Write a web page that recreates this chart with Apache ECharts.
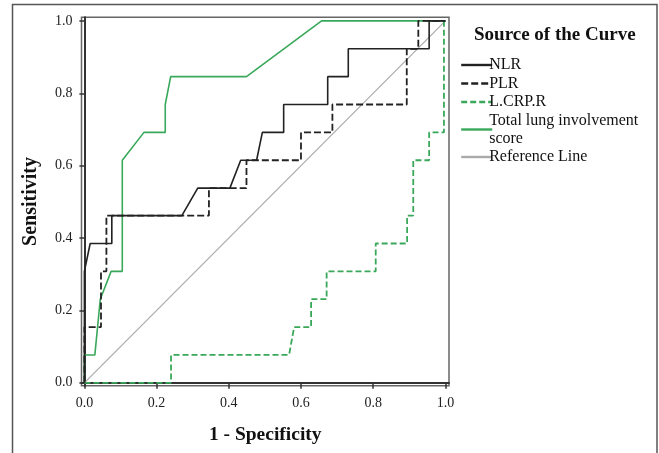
<!DOCTYPE html>
<html><head><meta charset="utf-8">
<script src="https://cdn.jsdelivr.net/npm/echarts@6/dist/echarts.min.js"></script>
<style>html,body{margin:0;padding:0;background:#fff}#c{width:659px;height:453px}</style>
</head><body><div id="c"></div>
<script>
const tickValues = [0, 0.2, 0.4, 0.6, 0.8, 1.0];
const seriesNames = ['NLR', 'PLR', 'L.CRP.R', 'Total lung involvement score', 'Reference Line'];
const nlr = [[0,0],[0,0.308],[0.016,0.385],[0.076,0.385],[0.076,0.462],[0.27,0.462],[0.314,0.538],[0.403,0.538],[0.433,0.615],[0.477,0.615],[0.493,0.692],[0.552,0.692],[0.552,0.769],[0.674,0.769],[0.674,0.846],[0.731,0.846],[0.731,0.923],[0.955,0.923],[0.955,1],[1,1]];
const plr = [[0,0],[0,0.154],[0.046,0.154],[0.046,0.308],[0.061,0.308],[0.061,0.462],[0.345,0.462],[0.345,0.538],[0.449,0.538],[0.449,0.615],[0.6,0.615],[0.6,0.692],[0.687,0.692],[0.687,0.769],[0.893,0.769],[0.893,0.923],[0.925,0.923],[0.925,1],[1,1]];
const lcrpr = [[0,0],[0.24,0],[0.24,0.077],[0.567,0.077],[0.581,0.154],[0.628,0.154],[0.628,0.231],[0.671,0.231],[0.671,0.308],[0.807,0.308],[0.807,0.385],[0.894,0.385],[0.894,0.462],[0.911,0.462],[0.911,0.615],[0.955,0.615],[0.955,0.692],[0.996,0.692],[0.996,1],[1,1]];
const lung = [[0,0],[0,0.077],[0.029,0.077],[0.044,0.231],[0.074,0.308],[0.105,0.308],[0.105,0.615],[0.165,0.692],[0.224,0.692],[0.224,0.769],[0.239,0.846],[0.449,0.846],[0.657,1],[1,1]];
const refLine = [[0,0],[1,1]];

const serif = '"Liberation Serif","Times New Roman",serif';
const chart = echarts.init(document.getElementById('c'));
const green = '#3aa85a';
chart.setOption({
  animation: false,
  backgroundColor: '#fff',
  title: {
    text: 'Source of the Curve', left: 469, top: 21,
    textStyle: {fontFamily: serif, fontWeight: 'bold', fontSize: 19, color: '#111'}
  },
  legend: {
    orient: 'vertical', left: 455, top: 51, itemGap: 0.5,
    itemWidth: 31, itemHeight: 14,
    data: seriesNames,
    formatter: n => n.replace(' score', '\nscore'),
    itemStyle: {opacity: 0, borderWidth: 0},
    lineStyle: {width: 2.4},
    textStyle: {fontFamily: serif, fontSize: 16, color: '#111', lineHeight: 18, padding: [0,0,0,-8]}
  },
  graphic: [{
    type: 'rect', shape: {x: 12.5, y: 4.5, width: 644.5, height: 470},
    style: {fill: 'none', stroke: '#555', lineWidth: 1.5}, silent: true
  }],
  grid: {left: 81.5, top: 17.3, width: 367.5, height: 368.4, show: true, borderColor: '#666', borderWidth: 1.5},
  xAxis: {
    type: 'value', min: -0.008, max: 1.01,
    name: '1 - Specificity', nameLocation: 'middle', nameGap: 39,
    nameTextStyle: {fontFamily: serif, fontWeight: 'bold', fontSize: 19.5, color: '#111'},
    axisLine: {show: true, lineStyle: {color: '#333', width: 2}},
    axisTick: {show: true, length: 6, customValues: tickValues, lineStyle: {color: '#333', width: 1.5}},
    axisLabel: {customValues: tickValues, formatter: v => v.toFixed(1), margin: 11,
      fontFamily: serif, fontSize: 14, color: '#222'},
    splitLine: {show: false}
  },
  yAxis: {
    type: 'value', min: -0.008, max: 1.01,
    name: 'Sensitivity', nameLocation: 'middle', nameGap: 41,
    nameTextStyle: {fontFamily: serif, fontWeight: 'bold', fontSize: 20, color: '#111'},
    axisLine: {show: true, lineStyle: {color: '#333', width: 2}},
    axisTick: {show: true, length: 5, customValues: tickValues, lineStyle: {color: '#333', width: 1.5}},
    axisLabel: {customValues: tickValues, formatter: v => v.toFixed(1), margin: 9,
      fontFamily: serif, fontSize: 14, color: '#222'},
    splitLine: {show: false}
  },
  series: [
    {name: seriesNames[4], type: 'line', data: refLine, symbol: 'none', z: 1,
      lineStyle: {color: '#aaa', width: 1.2}, itemStyle: {color: '#aaa'}},
    {name: seriesNames[2], type: 'line', data: lcrpr, symbol: 'none', z: 2,
      lineStyle: {color: green, width: 1.8, type: [6, 3]}, itemStyle: {color: green}},
    {name: seriesNames[3], type: 'line', data: lung, symbol: 'none', z: 2,
      lineStyle: {color: green, width: 1.6}, itemStyle: {color: green}},
    {name: seriesNames[1], type: 'line', data: plr, symbol: 'none', z: 3,
      lineStyle: {color: '#222', width: 1.8, type: [7, 3]}, itemStyle: {color: '#222'}},
    {name: seriesNames[0], type: 'line', data: nlr, symbol: 'none', z: 4,
      lineStyle: {color: '#222', width: 1.6}, itemStyle: {color: '#222'}}
  ]
});
</script></body></html>
